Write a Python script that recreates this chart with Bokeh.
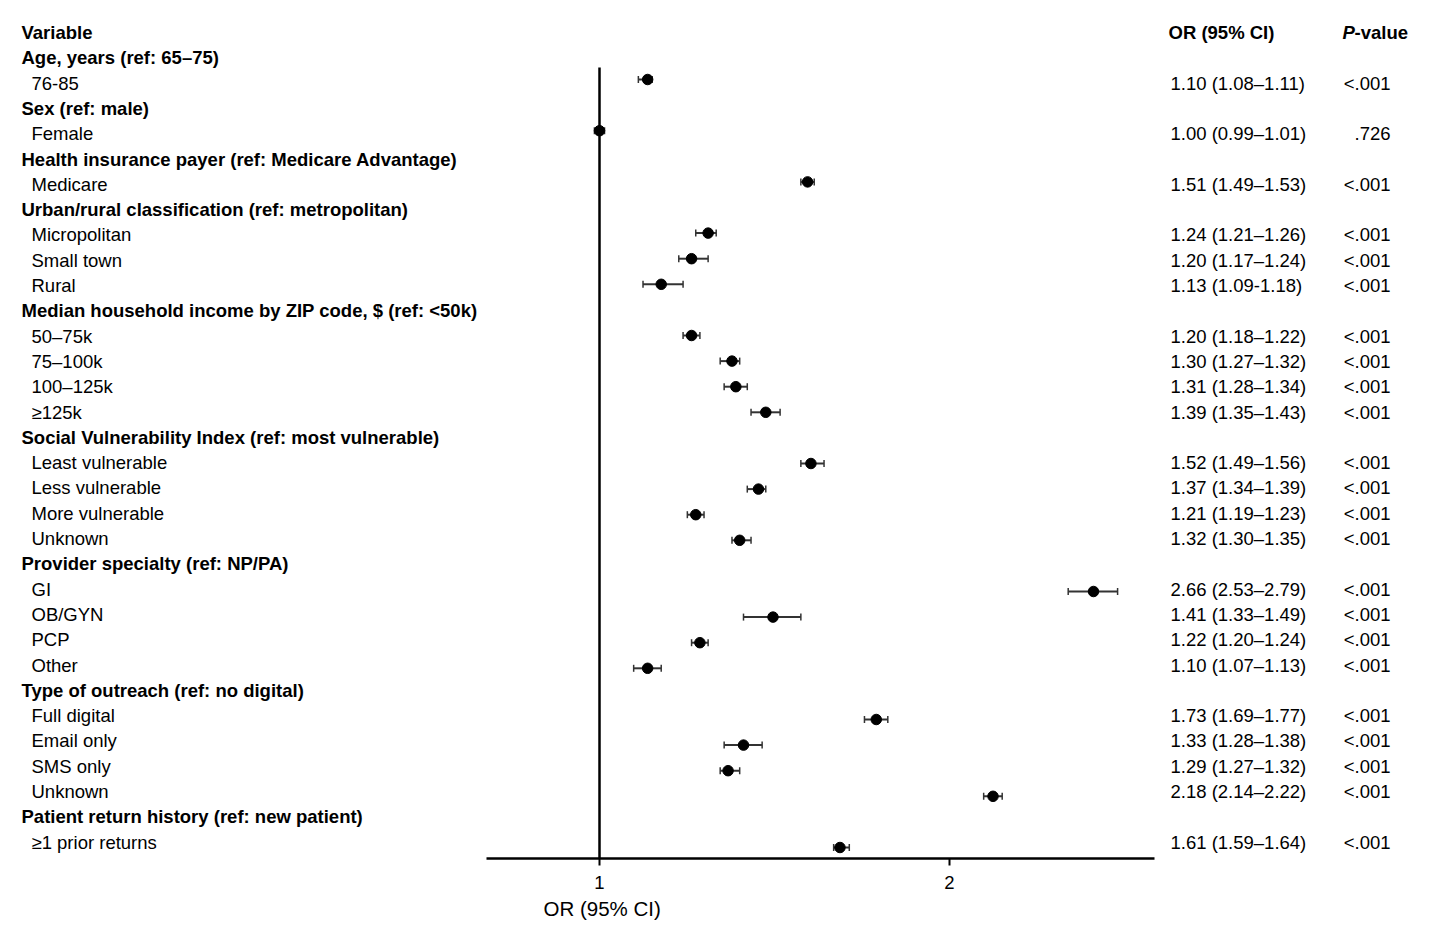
from bokeh.core.properties import value
from bokeh.embed import file_html
from bokeh.models import (ColumnDataSource, FixedTicker, LogAxis, LogScale,
                          PrintfTickFormatter, Range1d, TeeHead, Title, Whisker)
from bokeh.plotting import figure
from bokeh.resources import INLINE

# ---------------------------------------------------------------- data
group_labels = [
    "Age, years (ref: 65–75)",
    "Sex (ref: male)",
    "Health insurance payer (ref: Medicare Advantage)",
    "Urban/rural classification (ref: metropolitan)",
    "Median household income by ZIP code, $ (ref: <50k)",
    "Social Vulnerability Index (ref: most vulnerable)",
    "Provider specialty (ref: NP/PA)",
    "Type of outreach (ref: no digital)",
    "Patient return history (ref: new patient)",
]
group_sizes = [1, 1, 1, 3, 4, 4, 4, 4, 1]

level_labels = [
    "76-85",
    "Female",
    "Medicare",
    "Micropolitan", "Small town", "Rural",
    "50–75k", "75–100k", "100–125k", "≥125k",
    "Least vulnerable", "Less vulnerable", "More vulnerable", "Unknown",
    "GI", "OB/GYN", "PCP", "Other",
    "Full digital", "Email only", "SMS only", "Unknown",
    "≥1 prior returns",
]
odds_ratio = [1.10, 1.00, 1.51, 1.24, 1.20, 1.13, 1.20, 1.30, 1.31, 1.39,
              1.52, 1.37, 1.21, 1.32, 2.66, 1.41, 1.22, 1.10, 1.73, 1.33,
              1.29, 2.18, 1.61]
ci_low = [1.08, 0.99, 1.49, 1.21, 1.17, 1.09, 1.18, 1.27, 1.28, 1.35,
          1.49, 1.34, 1.19, 1.30, 2.53, 1.33, 1.20, 1.07, 1.69, 1.28,
          1.27, 2.14, 1.59]
ci_high = [1.11, 1.01, 1.53, 1.26, 1.24, 1.18, 1.22, 1.32, 1.34, 1.43,
           1.56, 1.39, 1.23, 1.35, 2.79, 1.49, 1.24, 1.13, 1.77, 1.38,
           1.32, 2.22, 1.64]
ci_dash = ["–"] * 5 + ["-"] + ["–"] * 17
p_values = ["<.001", ".726", "<.001", "<.001", "<.001", "<.001", "<.001",
            "<.001", "<.001", "<.001", "<.001", "<.001", "<.001", "<.001",
            "<.001", "<.001", "<.001", "<.001", "<.001", "<.001", "<.001",
            "<.001", "<.001"]
x_ticks = [1, 2]

# ---------------------------------------------------------------- row layout
group_rows, level_rows = [], []
row = 1
for size in group_sizes:
    group_rows.append(row)
    row += 1
    for _ in range(size):
        level_rows.append(row)
        row += 1

or_text = [f"{o:.2f} ({lo:.2f}{d}{hi:.2f})"
           for o, lo, hi, d in zip(odds_ratio, ci_low, ci_high, ci_dash)]

FONT = "Liberation Sans"
FS = "18.5px"
W, H = 1430, 947
BOTTOM = 89
frame_h = H - BOTTOM

# text rows: row r centred at 32 + 25.3 r pixels
t0, tstep = 32.0, 25.3
text_y = Range1d((frame_h - t0) / tstep, -t0 / tstep)
# estimate rows: row r centred at 27.8 + 25.6 r pixels
m0, mstep = 27.8, 25.6
mark_y = Range1d((frame_h - m0) / mstep, -m0 / mstep)
# log-scaled OR axis: OR = 1 at x = 599 px, one doubling per 350 px
x_one, px_per_doubling = 599.0, 350.0
or_range = Range1d(2 ** (-x_one / px_per_doubling),
                   2 ** ((W - x_one) / px_per_doubling))

p = figure(width=W, height=H, x_range=Range1d(0, W), y_range=text_y,
           x_axis_type=None, y_axis_type=None,
           min_border_left=0, min_border_right=0, min_border_top=0,
           min_border_bottom=BOTTOM, outline_line_color=None,
           toolbar_location=None, output_backend="svg")
p.extra_x_ranges = {"or": or_range}
p.extra_x_scales = {"or": LogScale()}
p.extra_y_ranges = {"mk": mark_y}
p.grid.visible = False
p.background_fill_color = "white"
p.border_fill_color = "white"

# ---------------------------------------------------------------- left column
p.text(x=[21], y=[0], text=["Variable"], text_font=value(FONT),
       text_font_size=FS, text_font_style="bold", text_baseline="middle",
       text_color="black")
p.text(x=[21] * len(group_labels), y=group_rows, text=group_labels,
       text_font=value(FONT), text_font_size=FS, text_font_style="bold",
       text_baseline="middle", text_color="black")
p.text(x=[31] * len(level_labels), y=level_rows, text=level_labels,
       text_font=value(FONT), text_font_size=FS, text_baseline="middle",
       text_color="black")

# ---------------------------------------------------------------- right columns
p.text(x=[1168], y=[0], text=["OR (95% CI)"], text_font=value(FONT),
       text_font_size=FS, text_font_style="bold", text_baseline="middle",
       text_color="black")
p.text(x=[1342], y=[0], text=["P"], text_font=value(FONT),
       text_font_size=FS, text_font_style="bold italic", text_baseline="middle",
       text_color="black")
p.text(x=[1354], y=[0], text=["-value"], text_font=value(FONT),
       text_font_size=FS, text_font_style="bold", text_baseline="middle",
       text_color="black")
p.text(x=[1170] * len(or_text), y=level_rows, text=or_text,
       text_font=value(FONT), text_font_size=FS, text_baseline="middle",
       text_color="black")
p.text(x=[1390] * len(p_values), y=level_rows, text=p_values,
       text_font=value(FONT), text_font_size=FS, text_baseline="middle",
       text_align="right", text_color="black")

# ---------------------------------------------------------------- forest
src = ColumnDataSource(dict(row=level_rows, est=odds_ratio,
                            lo=ci_low, hi=ci_high))

# reference line at OR = 1 running down to the axis
p.segment(x0=[1], x1=[1], y0=[level_rows[0] - 0.47], y1=[mark_y.start],
          x_range_name="or", y_range_name="mk", line_color="black",
          line_width=2.5)

p.add_layout(Whisker(source=src, base="row", lower="lo", upper="hi",
                     dimension="width", line_color="#333333", line_width=2,
                     lower_head=TeeHead(size=7, line_color="#333333", line_width=1.5),
                     upper_head=TeeHead(size=7, line_color="#333333", line_width=1.5),
                     x_range_name="or", y_range_name="mk"))
p.scatter(x="est", y="row", source=src, x_range_name="or", y_range_name="mk",
          size=10.5, fill_color="black", line_color="black")

axis = LogAxis(x_range_name="or", ticker=FixedTicker(ticks=x_ticks),
               formatter=PrintfTickFormatter(format="%d"),
               bounds=(0.8, 3.0), axis_line_width=2.5, axis_line_color="black",
               major_tick_line_width=2, major_tick_line_color="black",
               major_tick_out=7, major_tick_in=0,
               minor_tick_out=0, minor_tick_in=0,
               major_label_standoff=10,
               major_label_text_font=FONT, major_label_text_font_size=FS,
               major_label_text_color="black")
p.add_layout(axis, "below")

# axis title sits under the OR = 1 tick
p.add_layout(Title(text="OR (95% CI)", align="left", offset=543, standoff=6,
                   text_font=FONT, text_font_size="20.5px",
                   text_font_style="normal", text_color="black"), "below")

open("out.html", "w").write(file_html(p, INLINE))
